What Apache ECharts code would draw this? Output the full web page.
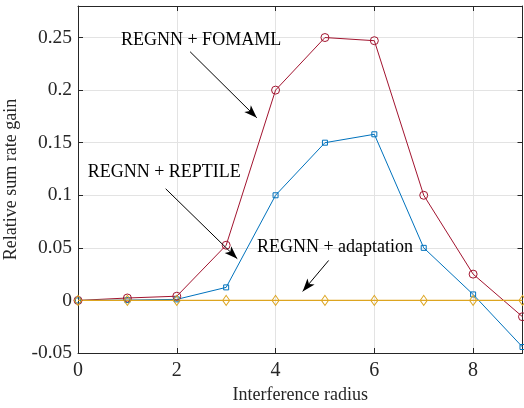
<!DOCTYPE html>
<html><head><meta charset="utf-8">
<script src="https://cdn.jsdelivr.net/npm/echarts@6/dist/echarts.min.js"></script>
<style>html,body{margin:0;padding:0;background:#fff}#c{width:524px;height:408px}</style>
</head><body><div id="c"></div>
<script>
const radius = [0,1,2,3,4,5,6,7,8,9];
const fomaml = [0,0.0023,0.004,0.0525,0.2,0.25,0.247,0.1,0.025,-0.0155];
const reptile = [0,0.0003,0.001,0.0124,0.1,0.15,0.158,0.05,0.0057,-0.0443];
const adaptation = [0,0,0,0,0,0,0,0,0,0];
const yTicks = ['-0.05','0','0.05','0.1','0.15','0.2','0.25'];
const xTicks = ['0','2','4','6','8'];
// annotations in data coordinates
const annTexts = ['REGNN + FOMAML','REGNN + REPTILE','REGNN + adaptation'];
const annTextAt = [[0.87,0.247],[0.196,0.122],[3.623,0.0506]];
const annArrowFrom = [[2.27,0.2365],[1.775,0.1062],[5.075,0.038]];
const annArrowTo = [[3.62,0.1737],[3.225,0.0397],[4.549,0.0086]];

const FONT = '"Liberation Serif","Times New Roman",serif';
const AX = '#262626';
const zip = a => radius.map((x,i)=>[x,a[i]]);
const fmtY = v => { const s = String(+v.toFixed(2)); return yTicks.includes(s) ? s : ''; };
const fmtX = v => { const s = String(+v.toFixed(2)); return xTicks.includes(s) ? s : ''; };

const chart = echarts.init(document.getElementById('c'), null, {renderer:'canvas'});
const baseX = {type:'value', min:0, max:9, interval:2,
  axisLine:{show:true, onZero:false, lineStyle:{color:AX, width:1}},
  axisTick:{show:true, inside:true, length:5, lineStyle:{color:AX}},
  splitLine:{show:false}};
const baseY = {type:'value', min:-0.05, max:0.28, interval:0.05,
  axisLine:{show:true, onZero:false, lineStyle:{color:AX, width:1}},
  axisTick:{show:true, inside:true, length:5, lineStyle:{color:AX}},
  splitLine:{show:false}};

const arrowData = annArrowFrom.map((f,i)=>[{coord:f},{coord:annArrowTo[i]}]);
const mk = c => ({color:'rgba(255,255,255,0)', borderColor:c, borderWidth:1});

chart.setOption({
  animation:false,
  backgroundColor:'#fff',
  grid:{left:78, right:1.5, top:6, bottom:55, containLabel:false, outerBoundsMode:'none'},
  xAxis:[
    Object.assign({}, baseX, {position:'bottom',
      name:'Interference radius', nameLocation:'middle', nameGap:33,
      nameTextStyle:{fontFamily:FONT, fontSize:18, color:'#262626'},
      splitLine:{show:true, lineStyle:{color:'#e3e3e3', width:1}},
      axisLabel:{formatter:fmtX, fontFamily:FONT, fontSize:20, color:'#262626', margin:8}}),
    Object.assign({}, baseX, {position:'top', axisLabel:{show:false}})
  ],
  yAxis:[
    Object.assign({}, baseY, {position:'left',
      name:'Relative sum rate gain', nameLocation:'middle', nameGap:54,
      nameTextStyle:{fontFamily:FONT, fontSize:18, color:'#262626'},
      splitLine:{show:true, lineStyle:{color:'#e3e3e3', width:1}},
      axisLabel:{formatter:fmtY, fontFamily:FONT, fontSize:19.5, color:'#262626', margin:6}}),
    Object.assign({}, baseY, {position:'right', axisLabel:{show:false}})
  ],
  series:[
    {name:'REGNN + FOMAML', type:'line', data:zip(fomaml), symbol:'circle', symbolSize:8,
     lineStyle:{color:'#A2142F', width:1}, itemStyle:mk('#A2142F'),
     markLine:{silent:true, symbol:['none','arrow'], symbolSize:[7,13], animation:false,
       lineStyle:{color:'#000', width:1, type:'solid'}, label:{show:false},
       data:arrowData}},
    {name:'REGNN + REPTILE', type:'line', data:zip(reptile), symbol:'rect', symbolSize:5,
     lineStyle:{color:'#0072BD', width:1}, itemStyle:mk('#0072BD')},
    {name:'REGNN + adaptation', type:'line', data:zip(adaptation), symbol:'diamond', symbolSize:[7,10],
     lineStyle:{color:'#DDA520', width:1.3}, itemStyle:mk('#DDA520')}
  ]
});

const g = annTexts.map((t,i)=>{
  const p = chart.convertToPixel({xAxisIndex:0, yAxisIndex:0}, annTextAt[i]);
  return {type:'text', x:p[0], y:p[1], z:100,
    style:{text:t, font:'18px ' + FONT, fill:'#000', textAlign:'left', textVerticalAlign:'middle'}};
});
chart.setOption({graphic:g});
</script></body></html>
